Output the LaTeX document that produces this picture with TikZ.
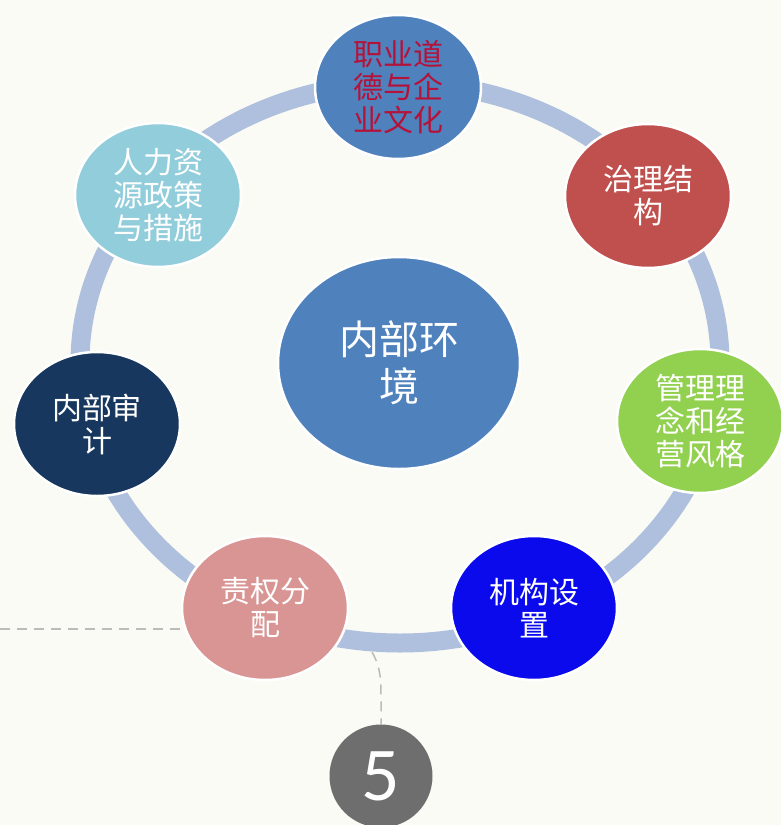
\documentclass[tikz,border=0pt]{standalone}
\usepackage{fontspec}
\newfontfamily\cjk{Noto Sans CJK SC}
\newfontfamily\numfont{Carlito}
\usetikzlibrary{shapes.geometric}
\pgfdeclarelayer{back}
\pgfdeclarelayer{bg}
\pgfsetlayers{back,bg,main}
\definecolor{bgc}{HTML}{FAFBF4}
\definecolor{ringc}{HTML}{AFC0DE}
\definecolor{dashc}{HTML}{BBBBBB}
\definecolor{c1}{HTML}{4F81BD}
\definecolor{t1}{HTML}{B5123A}
\definecolor{c2}{HTML}{C0504D}
\definecolor{c3}{HTML}{92D050}
\definecolor{c4}{HTML}{0A0AEC}
\definecolor{c5}{HTML}{D99594}
\definecolor{c6}{HTML}{17375E}
\definecolor{c7}{HTML}{92CDDC}
\definecolor{c8}{HTML}{4F81BD}
\definecolor{fivec}{HTML}{6E6E6E}
\tikzset{
  bubble/.style={ellipse, draw=white, line width=2.5pt, inner sep=0pt,
    minimum width=166pt, minimum height=144pt, align=center, text=white,
    font=\cjk\fontsize{30}{33}\selectfont},
  hub/.style={ellipse, draw=white, line width=2.5pt, inner sep=0pt,
    minimum width=242pt, minimum height=212pt, align=center, text=white,
    font=\cjk\fontsize{40}{47}\selectfont},
  ringline/.style={draw=ringc, line width=19pt},
  dashline/.style={draw=dashc, line width=1.5pt, dash pattern=on 10pt off 7pt},
  numdisc/.style={circle, fill=fivec, inner sep=0pt, minimum size=103pt,
    text=white, font=\numfont\fontsize{76}{76}\selectfont}
}
\begin{document}
\begin{tikzpicture}[x=1pt,y=-1pt]
\begin{pgfonlayer}{back}
\fill[bgc] (0,0) rectangle (781,825);
\end{pgfonlayer}
\useasboundingbox (0,0) rectangle (781,825);

\node[hub, fill=c8] (hubn) at (399,363) {内部环\\境};
\node[bubble, fill=c1, text=t1] (ethic) at (398,87) {职业道\\德与企\\业文化};
\node[bubble, fill=c2] (gov) at (648,196) {治理结\\构};
\node[bubble, fill=c3] (mgmt) at (700,421) {管理理\\念和经\\营风格};
\node[bubble, fill=c4] (org) at (534,608) {机构设\\置};
\node[bubble, fill=c5] (resp) at (265,608) {责权分\\配};
\node[bubble, fill=c6] (audit) at (97,424) {内部审\\计};
\node[bubble, fill=c7] (hr) at (158,195) {人力资\\源政策\\与措施};
\node[numdisc] (five) at (381,776) {5};

\coordinate (ringc) at (400,363);
\coordinate (leftend) at (0,629);
\coordinate (ringpt) at (372,652);

\begin{pgfonlayer}{bg}
\draw[ringline] (ringc) ellipse [x radius=320pt, y radius=280pt];
\draw[dashline] (leftend) -- (leftend -| resp);
\draw[dashline] (ringpt) .. controls (381,668) and (381,680) .. (381,700) -- (five.north);
\end{pgfonlayer}
\end{tikzpicture}
\end{document}
